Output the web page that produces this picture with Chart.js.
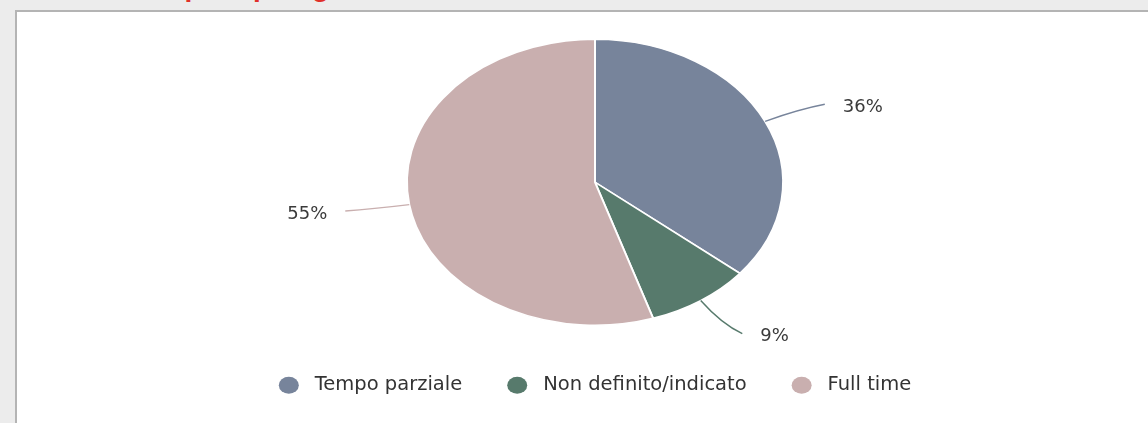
<!DOCTYPE html>
<html>
<head>
<meta charset="utf-8">
<script src="https://cdn.jsdelivr.net/npm/chart.js@4"></script>
<style>
  html, body { margin: 0; padding: 0; }
  body { width: 1148px; height: 423px; background: #ececec; position: relative; overflow: hidden; }
  #title { position: absolute; left: 60px; top: -27px; font: bold 28px/28px "Liberation Sans", Arial, sans-serif; color: #e0302a; white-space: nowrap; }
  #panel { position: absolute; left: 15px; top: 10px; right: -4px; bottom: -4px; background: #fff; border: 2px solid #b4b4b4; }
  #box { position: absolute; left: 0; top: 0; width: 1131px; height: 411px; }
</style>
</head>
<body>
<div id="title">Contratti per tipologia</div>
<div id="panel"><div id="box"><canvas id="c"></canvas></div></div>
<script>
  // dati
  var categories = ['Tempo parziale', 'Non definito/indicato', 'Full time'];
  var values = [36, 9, 55];
  var colors = ['#77849b', '#577a6c', '#c9afaf'];

  var SX = 1.315; // la torta del riferimento e' schiacciata in orizzontale

  //disegna la torta come ellisse
  var stretch = {
    id: 'stretch',
    beforeDatasetsDraw: function(chart){
      var a = chart.getDatasetMeta(0).data[0], ctx = chart.ctx;
      ctx.save();
      ctx.translate(a.x, a.y);
      ctx.scale(SX, 1);
      ctx.translate(-a.x, -a.y);
    },
    afterDatasetsDraw: function(chart){
      chart.ctx.restore();
    }
  };

  //linee guida ed etichette percentuali
  var leaders = {
    id: 'leaders',
    afterDraw: function(chart){
      var ctx = chart.ctx, meta = chart.getDatasetMeta(0),
        data = chart.data.datasets[0].data,
        total = data.reduce(function(s, v){ return s + v; }, 0);

      meta.data.forEach(function(arc, i){
        var p = arc.getProps(['x', 'y', 'startAngle', 'endAngle', 'outerRadius'], true),
          mid = (p.startAngle + p.endAngle) / 2, r = p.outerRadius,
          pt = function(k){ return { x: p.x + Math.cos(mid) * r * k * SX, y: p.y + Math.sin(mid) * r * k }; };
        var right = Math.cos(mid) >= 0, dir = right ? 1 : -1;
        var a = pt(1), c = pt(1.2), e = pt(1.28);
        e.x += 12 * dir;

        ctx.save();
        ctx.strokeStyle = colors[i];
        ctx.lineWidth = 1.5;
        ctx.beginPath();
        ctx.moveTo(a.x, a.y);
        ctx.quadraticCurveTo(c.x, c.y, e.x, e.y);
        ctx.stroke();

        ctx.fillStyle = '#3a3a3a';
        ctx.font = '18px "DejaVu Sans"';
        ctx.textBaseline = 'middle';
        ctx.textAlign = right ? 'left' : 'right';
        ctx.fillText(Math.round(data[i] / total * 100) + '%', e.x + 18 * dir, e.y + 3);
        ctx.restore();
      });
    }
  };

  new Chart(document.getElementById('c'), {
    type: 'pie',
    data: {
      labels: categories,
      datasets: [{
        data: values,
        backgroundColor: colors,
        borderColor: '#ffffff',
        borderWidth: 1.5,
        radius: 143
      }]
    },
    options: {
      responsive: true,
      maintainAspectRatio: false,
      animation: false,
      layout: { padding: { left: 25, top: 22, bottom: 18 } },
      plugins: {
        tooltip: { enabled: false },
        legend: {
          position: 'bottom',
          labels: {
            usePointStyle: true,
            pointStyle: 'circle',
            boxHeight: 12,
            pointStyleWidth: 20,
            padding: 45,
            color: '#333',
            font: { family: 'DejaVu Sans', size: 19.5 },
            generateLabels: function(chart){
              var items = Chart.overrides.pie.plugins.legend.labels.generateLabels(chart);
              items.forEach(function(it){ it.text = ' ' + it.text; it.lineWidth = 0; });
              return items;
            }
          }
        }
      }
    },
    plugins: [stretch, leaders]
  });
</script>
</body>
</html>
